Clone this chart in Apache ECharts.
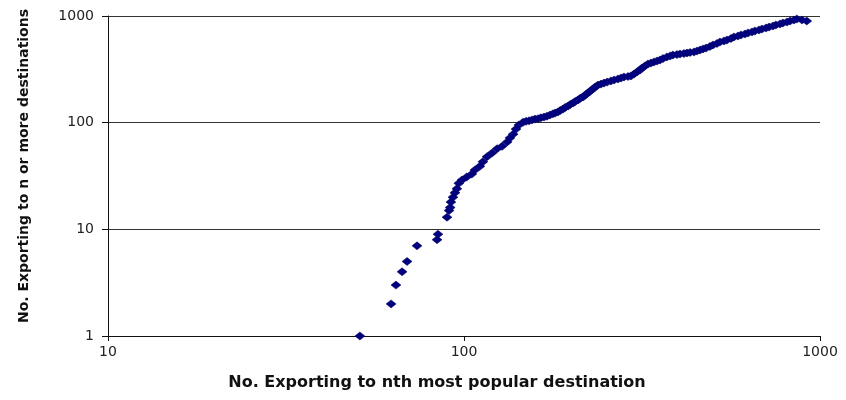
<!DOCTYPE html>
<html>
<head>
<meta charset="utf-8">
<script src="https://cdn.jsdelivr.net/npm/echarts@6/dist/echarts.min.js"></script>
<style>html,body{margin:0;padding:0;background:#fff;}#chart{width:846px;height:400px;}</style>
</head>
<body>
<div id="chart"></div>
<script>
// Number exporting to nth most popular destination (x)
var xValues = [51.0, 62.4, 64.4, 67.0, 69.2, 73.8, 84.0, 84.5, 89.6, 90.8, 91.4, 91.9, 93.1, 94.3, 95.5, 96.7, 98.7, 101.8, 105.2, 107.3, 110.8, 113.0, 116.1, 119.9, 123.9, 127.9, 132.2, 134.6, 137.4, 140.0, 142.6, 146.5, 152.3, 158.2, 164.4, 171.0, 177.8, 183.6, 189.7, 196.0, 202.5, 209.1, 216.0, 223.1, 230.4, 237.9, 247.3, 258.6, 270.7, 281.5, 294.4, 306.2, 316.2, 328.7, 341.8, 355.4, 371.5, 386.3, 404.4, 423.0, 442.6, 460.3, 478.6, 500.5, 523.6, 547.9, 573.1, 599.8, 627.9, 656.2, 687.1, 719.2, 751.6, 787.0, 824.1, 861.0, 918.0,
  149.4, 155.2, 161.4, 167.8, 174.4, 180.3, 186.3, 192.3, 198.7, 205.2, 211.9, 218.9, 226.2, 233.6, 242.6, 252.4, 263.9, 276.1, 288.9, 300.4, 312.2, 322.4, 335.2, 348.6, 362.4, 379.3, 396.4, 414.7, 431.5, 451.3, 469.3, 490.7, 513.5, 537.5, 562.3, 588.5, 615.6, 644.1, 674.0, 705.2, 737.8, 772.0, 807.7, 845.1, 890.2];
// Number exporting to n or more destinations (y)
var yValues = [1, 2, 3, 4, 5, 7, 8, 9, 13, 15, 16, 18, 20, 22, 24, 27, 29, 31, 33, 36, 39, 43, 48, 52, 57, 60, 66, 72, 78, 87, 95, 101, 104, 108, 111, 115, 121, 126, 134, 143, 153, 163, 174, 190, 207, 225, 235, 246, 257, 268, 274, 299, 325, 355, 371, 387, 413, 431, 440, 450, 460, 480, 501, 535, 570, 596, 636, 664, 693, 723, 755, 788, 824, 860, 897, 937, 897,
  103, 106, 109, 113, 118, 123, 130, 139, 148, 158, 169, 182, 198, 216, 230, 240, 251, 262, 271, 286, 312, 340, 362, 379, 399, 422, 435, 445, 455, 470, 491, 518, 552, 583, 615, 649, 678, 708, 739, 772, 806, 841, 878, 917, 917];
var xTicks = [10, 100, 1000];
var yTicks = [1, 10, 100, 1000];
var xTitle = 'No. Exporting to nth most popular destination';
var yTitle = 'No. Exporting to n or more destinations';

var points = xValues.map(function (x, i) { return [x, yValues[i]]; });

var chart = echarts.init(document.getElementById('chart'), null, {renderer: 'canvas'});
var labelStyle = {color: '#222', fontFamily: 'DejaVu Sans', fontSize: 14,
  formatter: function (v) { return String(Math.round(v)); }};
chart.setOption({
  animation: false,
  backgroundColor: '#fff',
  grid: {left: 108, right: 26, top: 16, bottom: 64, containLabel: false, outerBoundsMode: 'none'},
  xAxis: {
    type: 'log', logBase: 10, min: xTicks[0], max: xTicks[xTicks.length - 1],
    name: xTitle, nameLocation: 'middle', nameGap: 39,
    nameTextStyle: {fontFamily: 'DejaVu Sans', fontWeight: 'bold', fontSize: 16, color: '#111', padding: [0, 54, 0, 0]},
    axisLine: {show: true, lineStyle: {color: '#111', width: 1}},
    axisTick: {show: true, length: 5, lineStyle: {color: '#111'}},
    minorTick: {show: false},
    splitLine: {show: false},
    axisLabel: Object.assign({margin: 9}, labelStyle)
  },
  yAxis: {
    type: 'log', logBase: 10, min: yTicks[0], max: yTicks[yTicks.length - 1],
    name: yTitle, nameLocation: 'middle', nameGap: 77, nameRotate: 90,
    nameTextStyle: {fontFamily: 'DejaVu Sans', fontWeight: 'bold', fontSize: 14, color: '#111', padding: [0, 0, 0, 20]},
    axisLine: {show: true, lineStyle: {color: '#111', width: 1}},
    axisTick: {show: true, length: 6, lineStyle: {color: '#111'}},
    splitLine: {show: true, lineStyle: {color: '#333', width: 1}},
    axisLabel: Object.assign({margin: 14}, labelStyle)
  },
  series: [{
    type: 'scatter',
    data: points,
    symbol: 'diamond',
    symbolSize: [10, 8],
    itemStyle: {color: '#000080', borderColor: '#00005a', borderWidth: 0.5, opacity: 1}
  }]
});
</script>
</body>
</html>
